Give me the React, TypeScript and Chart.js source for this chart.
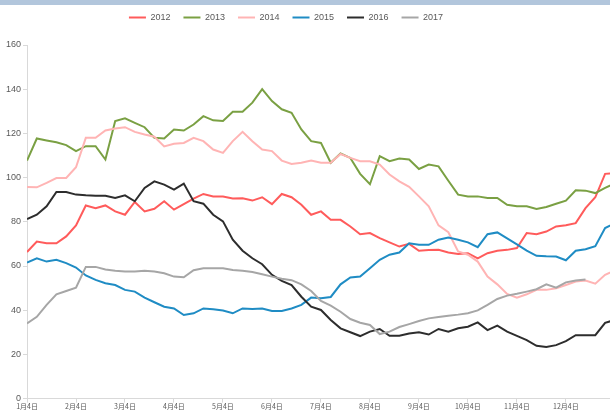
import React, { useEffect, useRef } from 'react';
import { Chart, registerables } from 'chart.js';

Chart.register(...registerables);

const monthLabels = ['1月4日', '2月4日', '3月4日', '4月4日', '5月4日', '6月4日', '7月4日', '8月4日', '9月4日', '10月4日', '11月4日', '12月4日'];
const years = ['2012', '2013', '2014', '2015', '2016', '2017'];
const STEP = 0.2; // months between samples

const s2012 = [
  66.3, 71.1, 70.3, 70.3, 73.4, 78.4, 87.4, 86.2, 87.4, 84.7,
  83.2, 89.0, 84.7, 85.9, 89.3, 85.5, 88.0, 90.5, 92.6, 91.5,
  91.4, 90.5, 90.6, 89.6, 91.1, 88.0, 92.6, 91.1, 87.7, 83.2,
  84.7, 80.9, 80.9, 77.9, 74.4, 74.9, 72.6, 70.7, 68.8, 70.0,
  66.9, 67.2, 67.3, 66.1, 65.4, 65.8, 63.5, 65.8, 66.9, 67.3,
  68.1, 74.9, 74.4, 75.6, 77.9, 78.4, 79.4, 86.2, 91.1, 101.7, 102.1,
];
const s2013 = [
  107.7, 117.7, 116.8, 116.0, 114.7, 112.0, 114.2, 114.2, 108.2, 125.6,
  126.8, 124.8, 122.8, 118.0, 117.7, 121.8, 121.3, 124.0, 127.8, 125.9,
  125.6, 129.8, 129.8, 133.9, 140.0, 134.6, 130.9, 129.3, 121.8, 116.5,
  115.7, 106.7, 110.9, 108.9, 101.7, 97.0, 109.7, 107.4, 108.6, 108.2,
  103.9, 105.9, 105.1, 98.6, 92.3, 91.5, 91.5, 90.8, 90.8, 87.7,
  87.0, 87.0, 85.8, 86.7, 88.2, 89.6, 94.3, 94.1, 93.0, 95.3, 97.5,
];
const s2014 = [
  95.8, 95.6, 97.6, 99.8, 99.8, 104.7, 118.0, 118.0, 121.3, 122.2,
  122.8, 120.7, 119.5, 118.5, 114.1, 115.3, 115.7, 118.0, 116.5, 112.7,
  111.2, 116.5, 120.7, 116.5, 112.7, 112.0, 107.7, 106.2, 106.7, 107.7,
  106.7, 106.7, 110.7, 108.9, 107.4, 107.4, 105.9, 101.4, 98.3, 95.8,
  91.5, 87.0, 78.4, 75.3, 66.6, 65.1, 62.0, 55.2, 51.7, 47.4,
  45.7, 47.2, 49.2, 49.2, 49.9, 51.4, 53.0, 53.4, 52.0, 56.0, 58.0,
];
const s2015 = [
  61.6, 63.5, 62.0, 62.8, 61.3, 59.3, 55.7, 53.7, 52.2, 51.4,
  49.2, 48.4, 45.7, 43.6, 41.6, 40.8, 37.8, 38.6, 40.8, 40.4,
  39.9, 38.6, 40.8, 40.5, 40.8, 39.6, 39.6, 40.8, 42.4, 45.7,
  45.4, 46.0, 51.7, 54.8, 55.2, 59.0, 62.8, 65.1, 66.1, 70.3,
  69.6, 69.6, 71.9, 72.9, 71.9, 70.7, 68.5, 74.4, 75.2, 72.5,
  69.8, 67.0, 64.6, 64.4, 64.3, 62.6, 66.9, 67.6, 69.0, 77.2, 79.4,
];
const s2016 = [
  81.2, 83.2, 87.0, 93.5, 93.5, 92.3, 92.0, 91.8, 91.8, 90.8,
  92.0, 89.3, 95.3, 98.3, 96.8, 94.6, 97.3, 89.3, 88.2, 83.2,
  80.2, 71.9, 66.9, 63.5, 60.8, 56.0, 53.3, 51.4, 46.1, 41.6,
  40.1, 35.6, 31.8, 30.0, 28.3, 30.3, 31.5, 28.4, 28.4, 29.5,
  30.0, 29.0, 31.5, 30.3, 31.8, 32.5, 34.5, 31.0, 33.0, 30.3,
  28.4, 26.5, 23.9, 23.4, 24.2, 26.0, 28.7, 28.7, 28.7, 34.3, 35.6,
];
const s2017 = [
  34.0, 37.0, 42.4, 47.2, 48.7, 50.2, 59.6, 59.6, 58.4, 57.8,
  57.5, 57.5, 57.8, 57.5, 56.7, 55.2, 54.9, 58.1, 59.0, 59.0,
  59.0, 58.2, 57.8, 57.3, 56.3, 55.2, 54.2, 53.6, 51.7, 48.7,
  44.2, 42.1, 39.3, 36.0, 34.3, 33.3, 29.2, 30.3, 32.4, 33.7,
  35.1, 36.3, 36.9, 37.5, 38.0, 38.6, 39.9, 42.4, 45.1, 46.6,
  47.4, 48.4, 49.5, 51.7, 50.2, 52.6, 53.4, 53.9,
];

const seriesList = [s2012, s2013, s2014, s2015, s2016, s2017];
const colors = ['#ff5b5b', '#7aa043', '#ffb4b4', '#1f8cc4', '#2d2d2d', '#a6a6a6'];

const legendShift = {
  id: 'legendShift',
  afterLayout(chart: any) {
    const l = chart.legend;
    if (l) {
      l.left -= 21;
      l.right -= 21;
      l.top -= 13;
      l.bottom -= 13;
    }
  },
};

export default function App() {
  const ref = useRef<HTMLCanvasElement>(null);
  useEffect(() => {
    document.body.style.margin = '0';
    const ctx = ref.current!;
    const axisColor = '#d9d9d9';
    const textColor = '#595959';
    const chart = new Chart(ctx, {
      type: 'line',
      data: {
        datasets: years.map((y, i) => ({
          label: y,
          data: seriesList[i].map((v, k) => ({ x: k * STEP, y: v })),
          borderColor: colors[i],
          backgroundColor: colors[i],
          borderWidth: 2,
          pointRadius: 0,
          tension: 0,
          order: years.length - i,
        })),
      },
      options: {
        animation: false,
        responsive: false,
        layout: { padding: { left: 4, top: 13, right: 0, bottom: 3 } },
        plugins: {
          tooltip: { enabled: false },
          legend: {
            position: 'top',
            labels: {
              boxWidth: 17,
              boxHeight: 2,
              padding: 13,
              color: textColor,
              font: { size: 9, family: "'Liberation Sans Narrow', 'Liberation Sans', sans-serif" },
              sort: (a: any, b: any) => a.datasetIndex - b.datasetIndex,
              generateLabels: (chart: any) =>
                (Chart.defaults.plugins.legend.labels as any).generateLabels(chart).map((l: any) => ({ ...l, lineWidth: 0 })),
            },
          },
        },
        scales: {
          x: {
            type: 'linear',
            min: 0,
            max: 11.9,
            border: { color: axisColor, width: 1 },
            grid: { drawOnChartArea: false, drawTicks: true, tickLength: 4, color: axisColor },
            ticks: {
              stepSize: 1,
              includeBounds: false,
              autoSkip: false,
              maxRotation: 0,
              padding: 0,
              color: textColor,
              font: { size: 7, family: "'Noto Sans CJK SC', sans-serif" },
              callback: (v: any) => monthLabels[v] ?? '',
            },
          },
          y: {
            min: 0,
            max: 160,
            border: { color: axisColor, width: 1 },
            grid: { drawOnChartArea: false, drawTicks: true, tickLength: 4, color: axisColor },
            ticks: {
              stepSize: 20,
              padding: 2,
              color: textColor,
              font: { size: 9, family: "'Liberation Sans', sans-serif" },
            },
          },
        },
      },
      plugins: [legendShift],
    } as any);
    return () => chart.destroy();
  }, []);
  return (
    <div style={{ position: 'relative', width: 610, height: 414, background: '#fff' }}>
      <canvas ref={ref} width={610} height={414} style={{ display: 'block' }} />
      <div style={{ position: 'absolute', left: 0, top: 0, width: 610, height: 5, background: '#b2c6dc' }} />
    </div>
  );
}
